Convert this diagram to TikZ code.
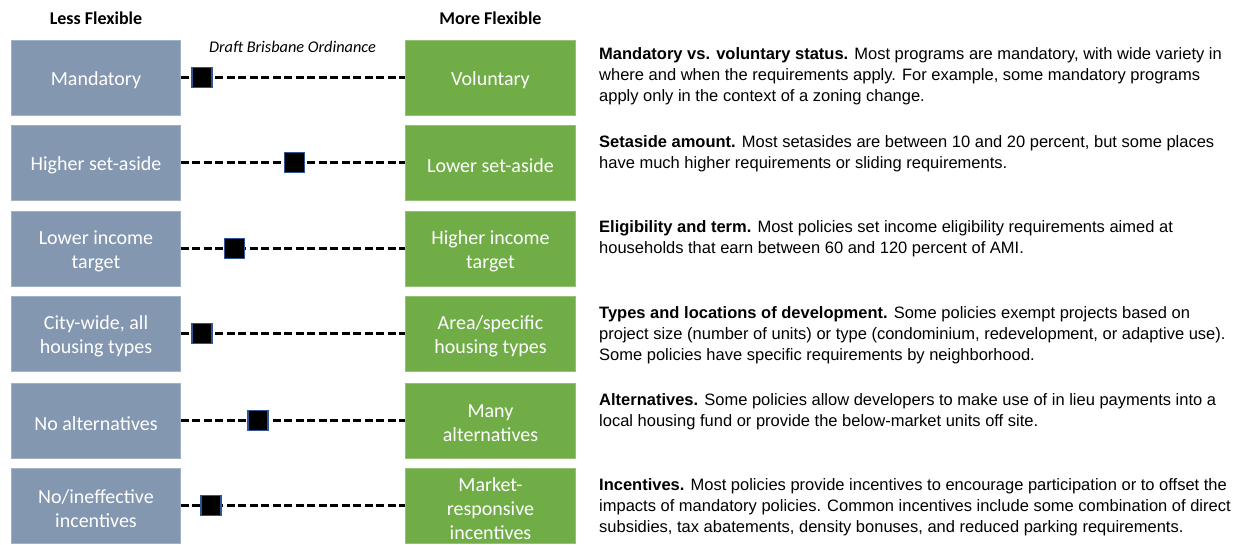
\documentclass[tikz,border=0pt]{standalone}
\usepackage{fontspec}
\setmainfont{Carlito}
\newfontfamily\arialf{Liberation Sans}
\definecolor{lessc}{HTML}{8497B0}
\definecolor{morec}{HTML}{70AD47}
\definecolor{sqedge}{HTML}{2F5597}
\begin{document}
\begin{tikzpicture}[x=1pt,y=-1pt,
  lessbox/.style={rectangle,fill=lessc,draw=lessc!75!white,line width=0.8pt,minimum width=169pt,minimum height=75pt,inner sep=0pt},
  morebox/.style={rectangle,fill=morec,draw=morec!75!white,line width=0.8pt,minimum width=170pt,minimum height=75pt,inner sep=0pt},
  boxtext/.style={inner sep=0pt,align=center,text=white,font=\fontsize{20}{24}\selectfont},
  conn/.style={line width=2.5pt,dash pattern=on 8pt off 3.5pt},
  marker/.style={rectangle,fill=black,draw=sqedge,line width=1.2pt,minimum size=20pt,inner sep=0pt},
  head/.style={font=\bfseries\fontsize{18}{22}\selectfont,inner sep=0pt},
  desc/.style={anchor=north west,align=left,inner sep=0pt,font=\arialf\fontsize{16.5}{21}\selectfont}
]
\useasboundingbox (0,0) rectangle (1240,544);
\fill[white] (0,0) rectangle (1240,544);

\node[head] (lh) at (96,18) {Less Flexible};
\node[head] (mh) at (490.5,18) {More Flexible};
\node[inner sep=0pt,font=\itshape\fontsize{16.3}{19}\selectfont] (dbo) at (292.5,47) {Draft Brisbane Ordinance};

% rows
\node[lessbox] (L1) at (96,77.5) {};
\node[morebox] (R1) at (490.5,77.5) {};
\node[lessbox] (L2) at (96,162.5) {};
\node[morebox] (R2) at (490.5,162.5) {};
\node[lessbox] (L3) at (96,248.5) {};
\node[morebox] (R3) at (490.5,248.5) {};
\node[lessbox] (L4) at (96,333.5) {};
\node[morebox] (R4) at (490.5,333.5) {};
\node[lessbox] (L5) at (96,420.5) {};
\node[morebox] (R5) at (490.5,420.5) {};
\node[lessbox] (L6) at (96,505.5) {};
\node[morebox] (R6) at (490.5,505.5) {};

\node[boxtext] (tL1) at ([yshift=-3pt]L1.center) {Mandatory};
\node[boxtext] (tR1) at ([yshift=-3pt]R1.center) {Voluntary};
\node[boxtext] (tL2) at ([yshift=-3pt]L2.center) {Higher set-aside};
\node[boxtext] (tR2) at ([yshift=-3pt]R2.center) {Lower set-aside};
\node[boxtext] (tL3) at ([yshift=-3pt]L3.center) {Lower income\\target};
\node[boxtext] (tR3) at ([yshift=-3pt]R3.center) {Higher income\\target};
\node[boxtext] (tL4) at ([yshift=-3pt]L4.center) {City-wide, all\\housing types};
\node[boxtext] (tR4) at ([yshift=-3pt]R4.center) {Area/specific\\housing types};
\node[boxtext] (tL5) at ([yshift=-3pt]L5.center) {No alternatives};
\node[boxtext] (tR5) at ([yshift=-3pt]R5.center) {Many\\alternatives};
\node[boxtext] (tL6) at ([yshift=-3pt]L6.center) {No/ineffective\\incentives};
\node[boxtext] (tR6) at ([yshift=-3pt]R6.center) {Market-\\responsive\\incentives};

\foreach \i in {1,...,6} {\draw[conn] (L\i.east) -- (R\i.west);}

\node[marker] (S1) at (202,77.5) {};
\node[marker] (S2) at (294.5,162.5) {};
\node[marker] (S3) at (234.5,248.5) {};
\node[marker] (S4) at (202,333.5) {};
\node[marker] (S5) at (258,420.5) {};
\node[marker] (S6) at (211,505.5) {};

\node[desc] (D1) at (599,47.5) {\textbf{Mandatory vs. voluntary status.} Most programs are mandatory, with wide variety in\\where and when the requirements apply. For example, some mandatory programs\\apply only in the context of a zoning change.};
\node[desc] (D2) at (599,135.5) {\textbf{Setaside amount.} Most setasides are between 10 and 20 percent, but some places\\have much higher requirements or sliding requirements.};
\node[desc] (D3) at (599,220.5) {\textbf{Eligibility and term.} Most policies set income eligibility requirements aimed at\\households that earn between 60 and 120 percent of AMI.};
\node[desc] (D4) at (599,306.5) {\textbf{Types and locations of development.} Some policies exempt projects based on\\project size (number of units) or type (condominium, redevelopment, or adaptive use).\\Some policies have specific requirements by neighborhood.};
\node[desc] (D5) at (599,393.5) {\textbf{Alternatives.} Some policies allow developers to make use of in lieu payments into a\\local housing fund or provide the below-market units off site.};
\node[desc] (D6) at (599,478.5) {\textbf{Incentives.} Most policies provide incentives to encourage participation or to offset the\\impacts of mandatory policies. Common incentives include some combination of direct\\subsidies, tax abatements, density bonuses, and reduced parking requirements.};
\end{tikzpicture}
\end{document}
